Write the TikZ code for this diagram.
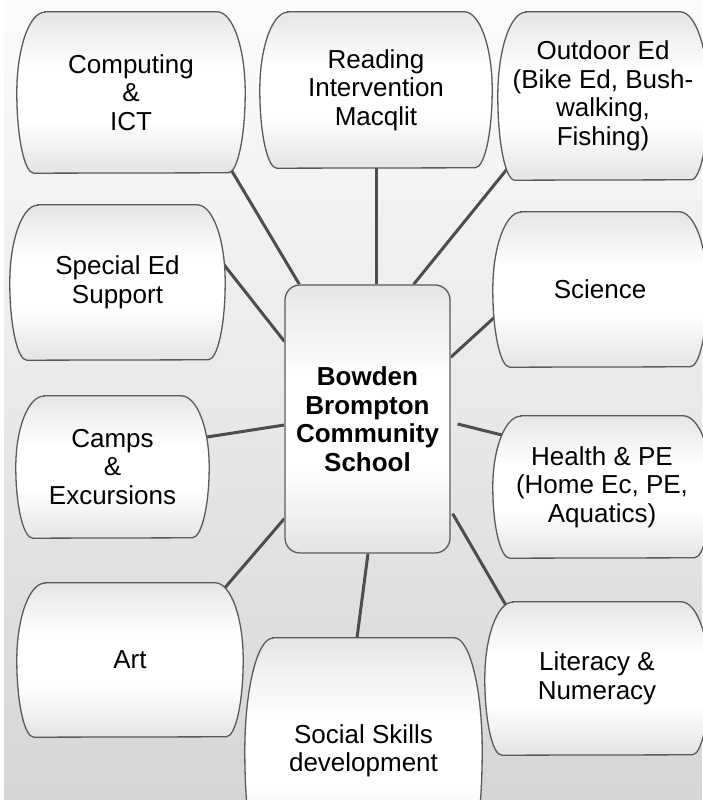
\documentclass[tikz,border=0pt]{standalone}
\usepackage{fontspec}
\setmainfont{Liberation Sans}
\usetikzlibrary{calc}
\definecolor{edgegray}{HTML}{5A5A5A}
\definecolor{linkgray}{HTML}{4D4D4D}
\definecolor{shd}{HTML}{E6E6E6}
\definecolor{bgtop}{HTML}{FCFCFC}
\definecolor{bgbot}{HTML}{D6D6D6}
\pgfdeclarelayer{back}
\pgfdeclarelayer{mid}
\pgfsetlayers{back,mid,main}
\newcommand\topicfont{\fontsize{26}{28.5}\selectfont}
\newcommand\hubfont{\fontsize{26}{28.5}\selectfont\bfseries}
% barrel outline: node name, half height
\newcommand\barrelgeom[2]{([xshift=28pt]#1.north west) -- ([xshift=-28pt]#1.north east)
  arc[start angle=90,end angle=0,x radius=28,y radius=#2]
  arc[start angle=0,end angle=-90,x radius=17,y radius=#2]
  -- ([xshift=17pt]#1.south west)
  arc[start angle=270,end angle=180,x radius=17,y radius=#2]
  arc[start angle=180,end angle=90,x radius=28,y radius=#2] -- cycle}
% soft vertical gradient bands inside the current clip
\newcommand\gradbands[1]{%
  \foreach \i in {0,...,49}{%
    \pgfmathsetmacro\tt{(\i+0.5)/50}%
    \pgfmathsetmacro\pct{max(0,min(100,min(100*(\tt-0.02)/0.33,100*(0.98-\tt)/0.30)))}%
    \fill[white!\pct!shd] ($(#1.north west)!\i/50!(#1.south west)+(-2,1)$) rectangle ($(#1.north east)!\i/50+0.03!(#1.south east)+(2,0)$);
  }}
\newcommand\barrel[2]{%
  \begin{scope}
    \clip \barrelgeom{#1}{#2};
    \gradbands{#1}
  \end{scope}
  \draw[outline] \barrelgeom{#1}{#2};}
\tikzset{
  outline/.style={draw=edgegray, line width=1.3pt},
  topic/.style={rectangle, inner sep=0pt, align=center, font=\topicfont},
  hubbox/.style={rectangle, rounded corners=15pt, outline, align=center, font=\hubfont,
    inner sep=0pt, minimum width=165pt, minimum height=268pt},
  link/.style={draw=linkgray, line width=3pt},
}
\begin{document}
\begin{tikzpicture}[x=1pt,y=1pt]
\useasboundingbox (0,0) rectangle (702,800);
\begin{pgfonlayer}{back}
  \fill[white] (0,0) rectangle (702,800);
  \shade[top color=bgtop, bottom color=bgbot] (4,0) rectangle (702,800);
\end{pgfonlayer}

% nodes (y' = 800 - y)
\node[hubbox] (hub) at (367.5,381) {Bowden\\Brompton\\Community\\School};
\node[topic, minimum width=228pt, minimum height=161pt] (comp) at (131,707.5) {Computing\\\&\\ICT};
\node[topic, minimum width=232pt, minimum height=156pt] (read) at (376,710) {Reading\\Intervention\\Macqlit};
\node[topic, minimum width=210pt, minimum height=168pt] (out) at (603,704) {Outdoor Ed\\(Bike Ed, Bush-\\walking,\\Fishing)};
\node[topic, minimum width=215pt, minimum height=155pt] (spec) at (117.5,517.5) {Special Ed\\Support};
\node[topic, minimum width=214pt, minimum height=155pt] (sci) at (600,510.5) {Science};
\node[topic, minimum width=193pt, minimum height=142pt] (camp) at (112.5,333) {Camps\\\&\\Excursions};
\node[topic, minimum width=218pt, minimum height=142pt] (health) at (602,313) {Health \& PE\\(Home Ec, PE,\\Aquatics)};
\node[topic, minimum width=226pt, minimum height=154pt] (art) at (130,140) {Art};
\node[topic, minimum width=237pt, minimum height=226pt] (social) at (363.5,49) {Social Skills\\development};
\node[topic, minimum width=224pt, minimum height=153pt] (lit) at (597,121.5) {Literacy \&\\Numeracy};

\begin{pgfonlayer}{mid}
  \draw[link] ($(comp.south east)+(-18,10)$) -- ($(hub.north west)+(15,0)$);
  \draw[link] (read.south) -- (read.south |- hub.north);
  \draw[link] ($(out.south west)+(14,17)$) -- ($(hub.north east)+(-37,0)$);
  \draw[link] ($(spec.east)+(-1,17.5)$) -- ($(hub.north west)+(0,-57)$);
  \draw[link] ($(sci.west)+(2,-27.5)$) -- ($(hub.north east)+(0,-73)$);
  \draw[link] ($(camp.east)+(-2,30)$) -- ($(hub.west)+(0,-6)$);
  \draw[link] ($(health.west)+(9,52)$) -- ($(hub.east)+(7,-5)$);
  \draw[link] ($(lit.north west)+(22,-5)$) -- ($(hub.south east)+(2,40)$);
  \draw[link] ($(social.north)+(-6.5,0)$) -- ($(hub.south)+(0.5,0)$);
  \draw[link] ($(art.north east)+(-20,-7)$) -- ($(hub.south west)+(0,35)$);
  \begin{scope}
    \clip[rounded corners=15pt] (hub.north west) rectangle (hub.south east);
    \gradbands{hub}
  \end{scope}
  \barrel{comp}{80.5}
  \barrel{read}{78}
  \barrel{out}{84}
  \barrel{spec}{77.5}
  \barrel{sci}{77.5}
  \barrel{camp}{71}
  \barrel{health}{71}
  \barrel{art}{77}
  \barrel{social}{113}
  \barrel{lit}{76.5}
\end{pgfonlayer}
\end{tikzpicture}
\end{document}
